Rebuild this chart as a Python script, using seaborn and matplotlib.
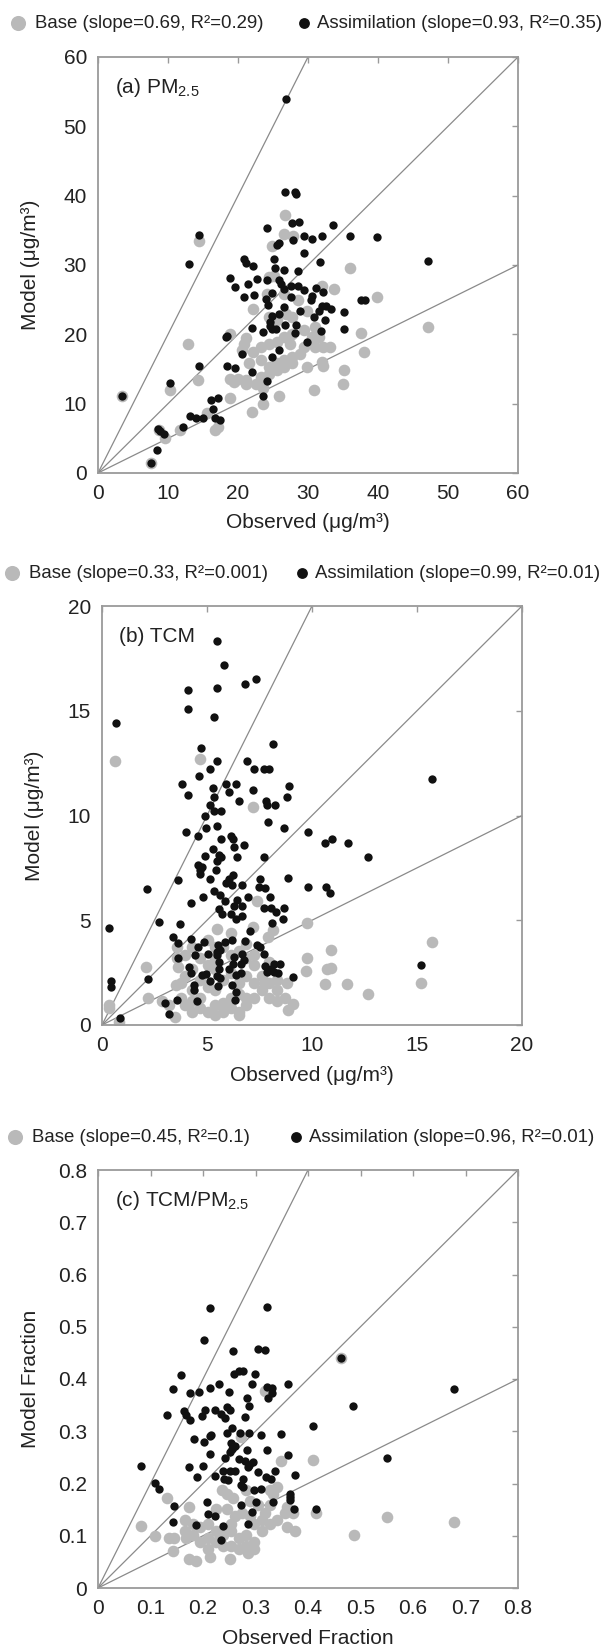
import numpy as np
import pandas as pd
import seaborn as sns
import matplotlib.pyplot as plt
from matplotlib import ticker

# ---- data ----
# (a) PM2.5, ug/m3
pm_base_obs = [26.7, 14.4, 26.6, 27.9, 24.9, 25.1, 24.4, 36.0, 33.7, 32.0,
               22.2, 24.1, 39.9, 47.1, 37.5, 38.0, 12.9, 20.9, 20.5, 22.2,
               23.3, 24.4, 25.5, 26.6, 27.7, 29.4, 29.4, 30.5, 31.0, 32.1,
               33.2, 28.8, 27.7, 26.6, 25.5, 24.4, 25.5, 26.6, 27.7, 23.3,
               21.6, 18.9, 20.0, 21.1, 19.4, 21.1, 22.5, 23.3, 24.4, 29.9,
               32.0, 32.1, 35.2, 35.0, 30.9, 25.9, 23.6, 18.9, 22.0, 23.5,
               14.3, 10.3, 3.4, 16.7, 17.2, 15.6, 11.7, 9.5, 8.7, 7.5,
               18.9, 26.6, 28.5, 29.9, 26.8, 27.7, 24.4, 21.1, 25.5, 31.6,
               31.0, 27.4]
pm_base_mod = [37.2, 33.5, 34.4, 34.2, 32.7, 28.4, 28.2, 29.6, 26.5, 27.0,
               23.7, 25.8, 25.4, 21.0, 20.2, 17.4, 18.6, 18.6, 17.8, 17.5,
               18.2, 18.6, 18.9, 19.6, 20.1, 20.6, 18.2, 19.6, 18.2, 18.2,
               18.2, 17.2, 16.7, 16.3, 15.8, 15.3, 14.8, 15.3, 15.8, 16.3,
               15.8, 13.6, 13.6, 13.4, 13.1, 12.9, 12.9, 13.9, 14.3, 15.3,
               16.0, 15.4, 14.9, 12.9, 12.0, 11.1, 12.2, 10.8, 8.8, 10.0,
               13.4, 11.9, 11.1, 6.2, 6.7, 8.6, 6.2, 5.0, 6.2, 1.5,
               20.1, 25.8, 24.9, 23.4, 22.9, 22.5, 22.5, 19.4, 22.0, 19.6,
               21.0, 18.6]
pm_asm_obs = [26.9, 26.7, 28.1, 28.3, 14.4, 13.0, 24.2, 33.6, 36.0, 39.9,
              32.0, 30.5, 29.4, 27.9, 25.9, 25.5, 27.7, 28.7, 29.4, 26.5,
              28.5, 25.3, 25.1, 20.9, 21.1, 22.1, 31.7, 47.1, 18.9, 19.5,
              21.4, 22.7, 24.1, 25.9, 26.2, 20.8, 22.3, 24.0, 24.3, 24.9,
              26.6, 27.6, 28.5, 29.4, 27.6, 30.5, 30.4, 31.1, 32.1, 32.6,
              31.6, 32.0, 33.3, 35.2, 37.6, 38.1, 26.6, 25.9, 28.9, 26.7,
              24.9, 24.6, 24.9, 25.4, 24.6, 23.6, 22.0, 28.1, 28.3, 30.9,
              32.4, 31.8, 35.1, 29.9, 25.9, 24.8, 20.5, 18.4, 18.3, 18.4,
              19.6, 14.4, 22.0, 24.1, 10.3, 23.5, 3.4, 17.1, 16.2, 16.4,
              13.2, 14.0, 15.0, 16.7, 17.4, 12.1, 8.6, 8.9, 9.4, 8.4,
              7.5]
pm_asm_mod = [53.9, 40.6, 40.6, 40.2, 34.3, 30.2, 35.4, 35.7, 34.2, 34.1,
              34.2, 33.8, 34.2, 33.6, 33.2, 32.9, 36.0, 36.2, 31.7, 29.3,
              29.1, 29.5, 30.8, 30.8, 30.3, 29.9, 30.4, 30.6, 28.1, 26.8,
              27.2, 28.0, 27.9, 27.8, 27.2, 25.4, 25.7, 25.1, 24.3, 26.0,
              26.5, 26.9, 27.0, 26.4, 25.4, 25.6, 25.0, 26.7, 26.1, 24.1,
              23.4, 24.1, 23.7, 23.2, 25.0, 25.0, 24.0, 23.0, 23.4, 21.3,
              22.6, 21.8, 20.8, 20.8, 21.2, 20.3, 20.9, 20.2, 21.3, 22.5,
              22.1, 20.5, 20.7, 18.9, 17.8, 16.8, 17.1, 19.7, 19.6, 15.5,
              15.1, 15.5, 14.5, 13.2, 13.0, 11.1, 11.1, 10.8, 10.5, 9.3,
              8.2, 8.0, 8.0, 7.9, 7.7, 6.7, 6.4, 6.0, 5.6, 3.3,
              1.5]

# (b) TCM, ug/m3
tcm_base_obs = [0.64, 4.69, 7.2, 7.36, 7.9, 8.15, 9.76, 7.2, 5.46, 15.73,
                10.9, 9.76, 9.73, 10.7, 10.9, 10.62, 11.68, 12.69, 15.2, 2.1,
                2.2, 0.33, 0.33, 0.82, 3.61, 3.53, 3.75, 3.2, 3.48, 2.84,
                4.3, 5.04, 5.4, 3.94, 4.67, 5.4, 6.14, 6.5, 6.87, 6.14,
                5.77, 7.23, 7.6, 7.97, 8.33, 8.7, 8.88, 9.1, 8.79, 8.33,
                7.78, 7.6, 7.23, 6.87, 6.5, 5.77, 5.04, 4.67, 4.3, 5.04,
                4.67, 5.4, 5.77, 6.14, 6.5, 6.87, 7.23, 5.04, 5.4, 4.3,
                3.94, 3.57, 3.94, 3.57, 4.3, 3.75, 6.14, 6.87, 7.97, 7.23,
                6.14, 5.4, 6.5, 6.87, 7.97, 8.33, 5.77, 5.4, 6.5, 4.67, 4.3]
tcm_base_mod = [12.58, 12.7, 10.4, 5.9, 4.2, 4.55, 4.86, 4.7, 4.6, 3.96,
                3.58, 3.19, 2.6, 2.65, 2.7, 1.95, 1.95, 1.48, 2.0, 2.75,
                1.31, 0.97, 0.8, 0.12, 2.76, 1.9, 2.0, 0.97, 0.38, 1.14,
                0.63, 0.63, 0.97, 0.97, 1.31, 1.66, 1.31, 0.63, 0.97, 0.8,
                1.06, 1.31, 1.66, 2.0, 1.66, 1.31, 0.72, 1.02, 2.0, 2.17,
                2.0, 2.34, 2.0, 2.34, 2.0, 2.17, 1.83, 2.17, 2.68, 2.85,
                3.19, 3.19, 3.7, 3.36, 3.53, 3.19, 3.36, 4.04, 3.7, 3.7,
                3.36, 3.19, 2.34, 3.7, 1.66, 1.31, 4.38, 3.87, 3.02, 2.85,
                2.5, 2.68, 1.48, 1.31, 1.31, 1.14, 0.63, 0.46, 0.46, 0.8, 1.14]
tcm_asm_obs = [5.46, 5.81, 4.08, 5.46, 6.8, 7.34, 4.08, 5.31, 0.68, 8.13,
               4.71, 5.48, 6.92, 5.13, 7.22, 7.73, 7.97, 4.63, 3.81, 5.9,
               6.36, 8.9, 5.27, 4.1, 6.06, 5.31, 7.2, 6.54, 8.79, 7.8,
               8.24, 7.87, 5.13, 5.33, 5.66, 4.9, 15.73, 7.9, 8.66, 4.94,
               5.46, 4.0, 4.55, 5.68, 6.12, 6.25, 6.76, 6.3, 5.27, 9.82,
               10.62, 10.93, 11.7, 12.69, 4.9, 5.57, 5.66, 6.43, 7.71, 5.49,
               4.55, 4.77, 4.67, 5.42, 6.26, 4.67, 5.15, 3.63, 6.06, 7.53,
               8.87, 5.92, 6.19, 6.65, 7.47, 7.78, 9.8, 10.68, 10.84, 2.16,
               6.96, 4.82, 5.33, 5.6, 8.02, 5.88, 6.41, 4.23, 7.73, 8.06,
               5.55, 6.28, 6.65, 8.66, 8.3, 6.14, 5.71, 6.67, 6.36, 8.62,
               8.11, 2.71, 0.33, 3.7, 7.07, 3.4, 4.25, 3.61, 4.85, 4.58,
               5.86, 6.83, 6.17, 5.53, 7.36, 7.51, 5.46, 5.64, 5.07, 3.61,
               4.43, 5.46, 6.28, 6.65, 7.71, 6.78, 6.6, 5.55, 6.25, 7.76,
               8.2, 8.48, 15.2, 4.12, 5.58, 6.04, 8.06, 8.17, 8.37, 7.87,
               4.23, 4.77, 4.95, 5.48, 6.37, 6.63, 0.42, 0.42, 2.2, 5.13,
               5.51, 6.17, 5.6, 9.1, 4.36, 4.36, 6.36, 3.59, 4.54, 6.32,
               2.98, 3.17, 0.86]
tcm_asm_mod = [18.33, 17.2, 16.0, 16.1, 16.3, 16.5, 15.1, 14.7, 14.4, 13.4,
               13.2, 12.6, 12.6, 12.2, 12.2, 12.2, 12.2, 11.9, 11.5, 11.5,
               11.5, 11.4, 11.3, 11.0, 11.1, 10.9, 11.2, 10.7, 10.9, 10.7,
               10.5, 10.5, 10.5, 10.2, 10.2, 9.96, 11.76, 9.7, 9.4, 9.4,
               9.5, 9.2, 9.0, 8.9, 9.0, 8.9, 8.6, 8.5, 8.4, 9.2,
               8.7, 8.9, 8.7, 8.0, 8.05, 8.1, 8.0, 8.0, 8.0, 7.85,
               7.66, 7.54, 7.42, 7.4, 7.15, 7.2, 6.95, 6.9, 6.95, 6.95,
               7.0, 6.8, 6.7, 6.7, 6.6, 6.55, 6.6, 6.6, 6.3, 6.47,
               6.1, 6.1, 6.4, 6.2, 6.1, 5.9, 5.96, 5.8, 5.6, 5.6,
               5.55, 5.7, 5.7, 5.6, 5.4, 5.3, 5.3, 5.2, 5.07, 5.07,
               4.86, 4.9, 4.64, 4.8, 4.5, 4.2, 4.1, 3.9, 3.96, 3.7,
               3.96, 4.0, 4.08, 3.8, 3.8, 3.7, 3.5, 3.6, 3.4, 3.2,
               3.36, 3.36, 3.24, 3.4, 3.4, 3.1, 2.9, 3.0, 2.9, 2.8,
               2.9, 2.9, 2.85, 2.76, 2.68, 2.68, 2.68, 2.54, 2.5, 2.54,
               2.47, 2.37, 2.42, 2.34, 2.4, 2.5, 2.1, 1.8, 2.2, 2.08,
               1.86, 1.9, 2.25, 2.3, 1.9, 1.66, 1.57, 1.2, 1.14, 1.18,
               1.06, 0.51, 0.32]

# (c) TCM/PM2.5 fraction
fr_base_obs = [0.319, 0.462, 0.273, 0.349, 0.410, 0.081, 0.108, 0.131, 0.173, 0.142,
               0.145, 0.168, 0.173, 0.187, 0.214, 0.252, 0.286, 0.297, 0.236, 0.246,
               0.257, 0.327, 0.334, 0.360, 0.371, 0.360, 0.376, 0.416, 0.487, 0.550,
               0.679, 0.166, 0.180, 0.194, 0.209, 0.224, 0.238, 0.253, 0.268, 0.282,
               0.297, 0.312, 0.327, 0.341, 0.312, 0.297, 0.282, 0.268, 0.253, 0.238,
               0.224, 0.209, 0.194, 0.209, 0.180, 0.246, 0.261, 0.275, 0.290, 0.304,
               0.319, 0.290, 0.327, 0.165, 0.136, 0.224, 0.253, 0.356, 0.341, 0.282]
fr_base_mod = [0.377, 0.441, 0.289, 0.243, 0.245, 0.118, 0.100, 0.173, 0.155, 0.070,
               0.095, 0.095, 0.056, 0.051, 0.060, 0.056, 0.067, 0.074, 0.187, 0.180,
               0.173, 0.187, 0.180, 0.155, 0.144, 0.116, 0.109, 0.144, 0.102, 0.135,
               0.127, 0.131, 0.123, 0.116, 0.123, 0.109, 0.102, 0.109, 0.095, 0.102,
               0.088, 0.109, 0.123, 0.131, 0.131, 0.123, 0.081, 0.074, 0.081, 0.081,
               0.088, 0.095, 0.088, 0.074, 0.102, 0.152, 0.137, 0.144, 0.166, 0.159,
               0.144, 0.137, 0.159, 0.109, 0.095, 0.152, 0.123, 0.144, 0.194, 0.187]
fr_asm_obs = [0.213, 0.321, 0.201, 0.319, 0.305, 0.258, 0.462, 0.159, 0.269, 0.277,
              0.259, 0.299, 0.361, 0.231, 0.213, 0.142, 0.176, 0.193, 0.249, 0.321,
              0.331, 0.331, 0.679, 0.293, 0.283, 0.323, 0.287, 0.485, 0.164, 0.203,
              0.222, 0.245, 0.252, 0.168, 0.199, 0.234, 0.242, 0.131, 0.175, 0.280,
              0.256, 0.246, 0.271, 0.287, 0.310, 0.348, 0.410, 0.216, 0.214, 0.182,
              0.201, 0.254, 0.261, 0.251, 0.255, 0.283, 0.321, 0.214, 0.241, 0.269,
              0.280, 0.362, 0.081, 0.173, 0.200, 0.238, 0.252, 0.261, 0.287, 0.296,
              0.285, 0.288, 0.305, 0.338, 0.550, 0.222, 0.189, 0.240, 0.248, 0.277,
              0.320, 0.330, 0.376, 0.272, 0.277, 0.297, 0.311, 0.108, 0.117, 0.365,
              0.365, 0.365, 0.208, 0.300, 0.334, 0.145, 0.272, 0.374, 0.416, 0.294,
              0.209, 0.223, 0.142, 0.187, 0.239, 0.286, 0.234]
fr_asm_mod = [0.536, 0.538, 0.475, 0.455, 0.457, 0.453, 0.441, 0.407, 0.416, 0.416,
              0.409, 0.409, 0.390, 0.390, 0.383, 0.381, 0.374, 0.376, 0.376, 0.384,
              0.383, 0.374, 0.381, 0.391, 0.363, 0.363, 0.349, 0.349, 0.338, 0.340,
              0.340, 0.347, 0.341, 0.331, 0.329, 0.333, 0.326, 0.332, 0.322, 0.328,
              0.307, 0.296, 0.297, 0.296, 0.292, 0.294, 0.310, 0.293, 0.290, 0.285,
              0.279, 0.278, 0.271, 0.261, 0.266, 0.264, 0.264, 0.256, 0.248, 0.247,
              0.243, 0.254, 0.234, 0.232, 0.234, 0.224, 0.224, 0.224, 0.235, 0.242,
              0.231, 0.236, 0.222, 0.223, 0.248, 0.214, 0.212, 0.209, 0.207, 0.208,
              0.213, 0.208, 0.216, 0.197, 0.194, 0.187, 0.189, 0.201, 0.189, 0.180,
              0.169, 0.174, 0.164, 0.164, 0.164, 0.156, 0.159, 0.152, 0.152, 0.146,
              0.142, 0.138, 0.127, 0.120, 0.119, 0.122, 0.092]

ratio_slopes = [2, 1, 0.5]

base_labels = ["Base (slope=0.69, R²=0.29)",
               "Base (slope=0.33, R²=0.001)",
               "Base (slope=0.45, R²=0.1)"]
asm_labels = ["Assimilation (slope=0.93, R²=0.35)",
              "Assimilation (slope=0.99, R²=0.01)",
              "Assimilation (slope=0.96, R²=0.01)"]
tags = ["(a) PM$_{2.5}$", "(b) TCM", "(c) TCM/PM$_{2.5}$"]
xlabels = ["Observed (μg/m³)", "Observed (μg/m³)", "Observed Fraction"]
ylabels = ["Model (μg/m³)", "Model (μg/m³)", "Model Fraction"]
limits = [60, 20, 0.8]
steps = [10, 5, 0.1]

# ---- style ----
sns.set_style("white")
plt.rcParams['font.family'] = ['Liberation Sans', 'DejaVu Sans']
plt.rcParams['mathtext.default'] = 'regular'

W, H = 603, 1648
fig = plt.figure(figsize=(W / 100, H / 100), dpi=100)

GRAY = "#b9b9b9"
BLACK = "#111111"
SPINE = "#9a9a9a"
TXT = "#222222"
LEG_FS = 13.4
fs_px = LEG_FS * 100 / 72

# pixel layout: axes box (l, t, r, b), legend row y, marker x's
boxes = [(98, 57, 518, 473), (102, 606, 522, 1025), (98, 1170, 518, 1588)]
leg_y = [23, 573, 1137]
gray_x = [18, 12, 15]
black_x = [304, 302, 296]

panels = [
    (pm_base_obs, pm_base_mod, pm_asm_obs, pm_asm_mod),
    (tcm_base_obs, tcm_base_mod, tcm_asm_obs, tcm_asm_mod),
    (fr_base_obs, fr_base_mod, fr_asm_obs, fr_asm_mod),
]

for i, (bo, bm, ao, am) in enumerate(panels):
    l, t, r, b = boxes[i]
    ax = fig.add_axes([l / W, 1 - b / H, (r - l) / W, (b - t) / H])

    for s in ratio_slopes:
        ax.axline((0, 0), slope=s, color="#8a8a8a", lw=0.9, zorder=1)

    sns.scatterplot(x=bo, y=bm, ax=ax, color=GRAY, s=70, linewidth=0,
                    label=base_labels[i], legend=False, zorder=2)
    sns.scatterplot(x=ao, y=am, ax=ax, color=BLACK, s=36, linewidth=0,
                    label=asm_labels[i], legend=False, zorder=3)

    lim = limits[i]
    ax.set_xlim(0, lim)
    ax.set_ylim(0, lim)
    tks = np.round(np.arange(0, lim + steps[i] / 2, steps[i]), 3)
    ax.set_xticks(tks)
    ax.set_yticks(tks)
    ax.xaxis.set_major_formatter(ticker.FormatStrFormatter('%g'))
    ax.yaxis.set_major_formatter(ticker.FormatStrFormatter('%g'))
    ax.tick_params(direction='in', top=True, right=True, length=4, width=1,
                   color=SPINE, labelsize=15, labelcolor=TXT, pad=8)
    for sp in ax.spines.values():
        sp.set_color(SPINE)
        sp.set_linewidth(1.3)

    ax.set_xlabel(xlabels[i], fontsize=15, color=TXT)
    ax.set_ylabel(ylabels[i], fontsize=15, color=TXT)
    ax.xaxis.set_label_coords(0.5, -0.097)
    ax.yaxis.set_label_coords(-0.138, 0.5)

    ax.text(0.04, 0.927, tags[i], transform=ax.transAxes, fontsize=15,
            color=TXT, va='center', ha='left')

    handles, labels = ax.get_legend_handles_labels()
    for h, lab, mx, pad in [(handles[0], labels[0], gray_x[i], 0.42),
                            (handles[1], labels[1], black_x[i], 0.2)]:
        x0 = mx - fs_px / 2
        fig.legend([h], [lab], loc='center left',
                   bbox_to_anchor=(x0 / W, 1 - leg_y[i] / H),
                   frameon=False, borderpad=0, borderaxespad=0,
                   handlelength=1.0, handletextpad=pad, fontsize=LEG_FS,
                   labelcolor=TXT, markerscale=1.3)

fig.savefig("out.png", dpi=100)
